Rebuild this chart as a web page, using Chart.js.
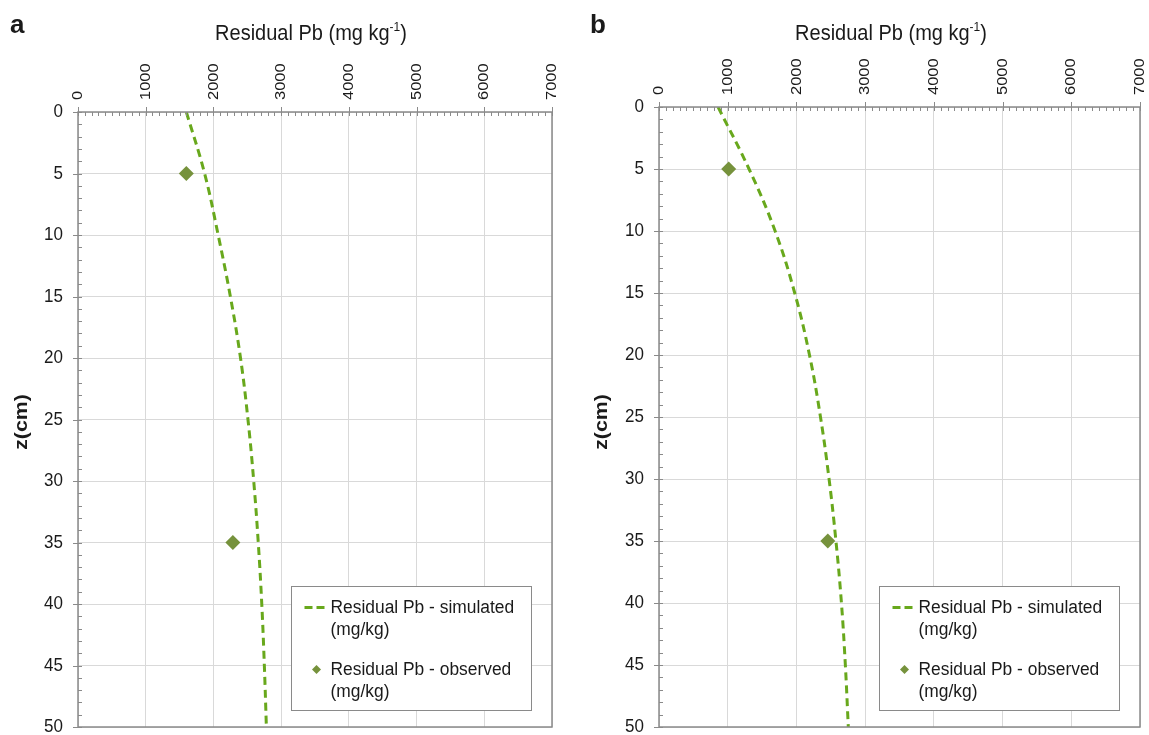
<!DOCTYPE html>
<html><head><meta charset="utf-8">
<script src="https://cdn.jsdelivr.net/npm/chart.js@4.4.1/dist/chart.umd.min.js"></script>
<style>
html,body{margin:0;padding:0;background:#fff;width:1149px;height:735px;overflow:hidden}
.p{position:absolute;top:0;height:735px}
#wa{left:0;width:574px}
#wb{left:580px;width:569px}
</style></head><body>
<div class="p" id="wa"><canvas id="ca"></canvas></div>
<div class="p" id="wb"><canvas id="cb"></canvas></div>
<script>
// ---- data ----
const depths = [0, 5, 10, 15, 20, 25, 30, 35, 40, 45, 50];
const simA = [1600, 1870, 2070, 2250, 2400, 2510, 2595, 2662, 2714, 2752, 2782];
const simB = [860, 1310, 1690, 1975, 2190, 2350, 2475, 2575, 2655, 2712, 2755];
const obsDepths = [5, 35];
const obsA = [1600, 2287];
const obsB = [1014, 2457];
const xTicks = [0, 1000, 2000, 3000, 4000, 5000, 6000, 7000];
const yTicks = [0, 5, 10, 15, 20, 25, 30, 35, 40, 45, 50];
const panelLetters = ['a', 'b'];
const xTitleMain = 'Residual Pb (mg kg';
const xTitleSup = '-1';
const xTitleEnd = ')';
const yTitle = 'z(cm)';
const simLabel = ['Residual Pb - simulated', '(mg/kg)'];
const obsLabel = ['Residual Pb - observed', '(mg/kg)'];

const FONT = "'Liberation Sans', Arial, sans-serif";
const LINE_COLOR = '#68a81c';
const PT_COLOR = '#76923c';
const AXIS_COLOR = '#8a8a8a';
const TEXT_COLOR = '#1a1a1a';
const SY = 1.08;

function toPts(xs, ys) { return xs.map((x, i) => ({x: x, y: ys[i]})); }

function txt(ctx, s, x, y, font, align, base, rot, sy) {
  ctx.save();
  ctx.translate(x, y);
  ctx.scale(1, sy);
  if (rot) ctx.rotate(rot);
  ctx.font = font; ctx.textAlign = align; ctx.textBaseline = base;
  ctx.fillStyle = TEXT_COLOR;
  ctx.fillText(s, 0, 0);
  ctx.restore();
}

const decor = {
  id: 'decor',
  afterDatasetsDraw(chart, args, opts) {
    const ctx = chart.ctx, ca = chart.chartArea;
    const xs = chart.scales.x, ys = chart.scales.y;
    ctx.save();
    // border
    ctx.strokeStyle = AXIS_COLOR; ctx.lineWidth = 1.5;
    ctx.strokeRect(ca.left, ca.top, ca.right - ca.left, ca.bottom - ca.top);
    // ticks
    ctx.lineWidth = 1;
    ctx.beginPath();
    for (let v = 0; v <= 7000; v += 100) {
      const px = Math.round(xs.getPixelForValue(v)) + 0.5;
      if (v % 1000 === 0) { ctx.moveTo(px, ca.top - 5); ctx.lineTo(px, ca.top + 4); }
      else { ctx.moveTo(px, ca.top); ctx.lineTo(px, ca.top + 4); }
    }
    for (let v = 0; v <= 50; v += 1) {
      const py = Math.round(ys.getPixelForValue(v)) + 0.5;
      if (v % 5 === 0) { ctx.moveTo(ca.left - 5, py); ctx.lineTo(ca.left + 4, py); }
      else { ctx.moveTo(ca.left, py); ctx.lineTo(ca.left + 4, py); }
    }
    ctx.stroke();

    // tick labels
    xTicks.forEach(v => {
      txt(ctx, String(v), xs.getPixelForValue(v), ca.top - 12, '15px ' + FONT, 'left', 'middle', -Math.PI / 2, 1.1);
    });
    yTicks.forEach(v => {
      txt(ctx, String(v), ca.left - 15, ys.getPixelForValue(v), '17px ' + FONT, 'right', 'middle', 0, SY);
    });

    // panel letter
    txt(ctx, opts.letter, 10, 33, 'bold 26px ' + FONT, 'left', 'alphabetic', 0, 1);

    // x title with superscript
    ctx.font = '20px ' + FONT;
    const w1 = ctx.measureText(xTitleMain).width;
    ctx.font = '12px ' + FONT;
    const w2 = ctx.measureText(xTitleSup).width;
    ctx.font = '20px ' + FONT;
    const w3 = ctx.measureText(xTitleEnd).width;
    const tx = opts.titleX - (w1 + w2 + w3) / 2;
    const ty = 40;
    txt(ctx, xTitleMain, tx, ty, '20px ' + FONT, 'left', 'alphabetic', 0, SY);
    txt(ctx, xTitleSup, tx + w1, ty - 9, '12px ' + FONT, 'left', 'alphabetic', 0, SY);
    txt(ctx, xTitleEnd, tx + w1 + w2, ty, '20px ' + FONT, 'left', 'alphabetic', 0, SY);

    // y title
    txt(ctx, yTitle, 22, 422, 'bold 19px ' + FONT, 'center', 'middle', -Math.PI / 2, 1.12);

    // legend
    const bw = 240, bh = 124;
    const bx = Math.round(ca.right - 21 - bw) + 0.5, by = Math.round(ca.bottom - 17 - bh) + 0.5;
    ctx.fillStyle = '#fff';
    ctx.fillRect(bx, by, bw, bh);
    ctx.strokeStyle = '#8a8a8a'; ctx.lineWidth = 1;
    ctx.strokeRect(bx, by, bw, bh);
    ctx.strokeStyle = LINE_COLOR; ctx.lineWidth = 3; ctx.setLineDash([8, 4]);
    ctx.beginPath(); ctx.moveTo(bx + 13, by + 21); ctx.lineTo(bx + 36, by + 21); ctx.stroke();
    ctx.setLineDash([]);
    ctx.fillStyle = PT_COLOR;
    const dx = bx + 25, dy = by + 83, r = 4.5;
    ctx.beginPath(); ctx.moveTo(dx, dy - r); ctx.lineTo(dx + r, dy); ctx.lineTo(dx, dy + r); ctx.lineTo(dx - r, dy); ctx.closePath(); ctx.fill();
    const lf = '17.4px ' + FONT;
    txt(ctx, simLabel[0], bx + 39, by + 21, lf, 'left', 'middle', 0, SY);
    txt(ctx, simLabel[1], bx + 39, by + 43, lf, 'left', 'middle', 0, SY);
    txt(ctx, obsLabel[0], bx + 39, by + 83, lf, 'left', 'middle', 0, SY);
    txt(ctx, obsLabel[1], bx + 39, by + 105, lf, 'left', 'middle', 0, SY);
    ctx.restore();
  }
};

function makeChart(id, sim, obs, letter, yw, xh, rpad) {
  return new Chart(document.getElementById(id), {
    type: 'scatter',
    data: {
      datasets: [
        {
          label: simLabel.join(' '),
          data: toPts(sim, depths),
          showLine: true,
          borderColor: LINE_COLOR,
          borderWidth: 3,
          borderDash: [8, 5],
          tension: 0.4,
          pointRadius: 0,
          fill: false
        },
        {
          label: obsLabel.join(' '),
          data: toPts(obs, obsDepths),
          showLine: false,
          pointStyle: 'rectRot',
          pointRadius: 7.5,
          backgroundColor: PT_COLOR,
          borderColor: PT_COLOR,
          borderWidth: 0
        }
      ]
    },
    options: {
      responsive: true,
      maintainAspectRatio: false,
      animation: false,
      layout: {padding: {left: 0, top: 0, right: rpad, bottom: 8}},
      plugins: {
        legend: {display: false},
        tooltip: {enabled: false},
        decor: {letter: letter, titleX: 311}
      },
      scales: {
        x: {
          type: 'linear', position: 'top', min: 0, max: 7000,
          afterBuildTicks: s => { s.ticks = xTicks.map(v => ({value: v})); },
          ticks: {display: false},
          grid: {color: '#d9d9d9', drawTicks: false, lineWidth: 1},
          border: {display: false},
          afterFit: s => { s.height = xh; s.paddingLeft = 0; s.paddingRight = 0; s.paddingTop = 0; s.paddingBottom = 0; }
        },
        y: {
          type: 'linear', reverse: true, min: 0, max: 50,
          afterBuildTicks: s => { s.ticks = yTicks.map(v => ({value: v})); },
          ticks: {display: false},
          grid: {color: '#d9d9d9', drawTicks: false, lineWidth: 1},
          border: {display: false},
          afterFit: s => { s.width = yw; s.paddingLeft = 0; s.paddingRight = 0; s.paddingTop = 0; s.paddingBottom = 0; }
        }
      }
    },
    plugins: [decor]
  });
}

makeChart('ca', simA, obsA, panelLetters[0], 78, 112, 22);
makeChart('cb', simB, obsB, panelLetters[1], 79, 107, 9);
</script>
</body></html>
